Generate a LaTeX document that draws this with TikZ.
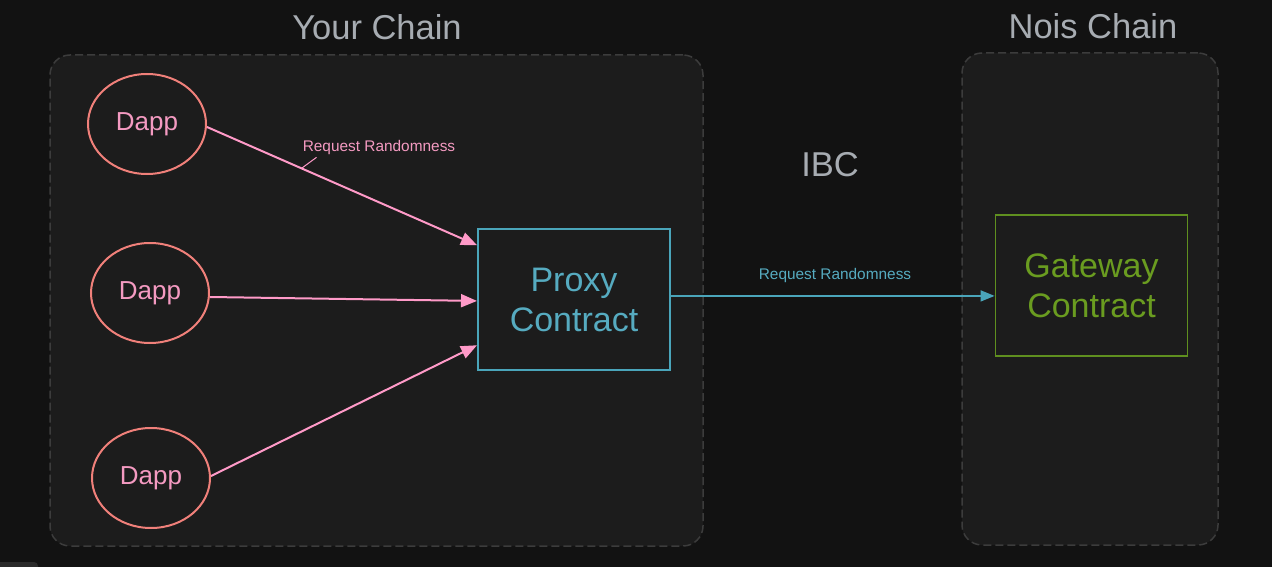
\documentclass[tikz,border=0pt]{standalone}
\usepackage{fontspec}
\setmainfont{Liberation Sans}
\usetikzlibrary{shapes.geometric,arrows.meta,calc}
\definecolor{bgc}{HTML}{121212}
\definecolor{panelc}{HTML}{1C1C1C}
\definecolor{dashc}{HTML}{3C3C3C}
\definecolor{titlec}{HTML}{A7ACB2}
\definecolor{pinkc}{HTML}{FF9AC8}
\definecolor{pinktxt}{HTML}{F49AC1}
\definecolor{salmonc}{HTML}{F0807A}
\definecolor{tealc}{HTML}{4AA5BA}
\definecolor{tealtxt}{HTML}{56ABC0}
\definecolor{greenc}{HTML}{5F8F1F}
\definecolor{greentxt}{HTML}{6A9C20}
\definecolor{uic}{HTML}{2A2A2A}
\tikzset{
  panel/.style={draw=dashc, fill=panelc, line width=1.5pt, dash pattern=on 8pt off 4pt, rounded corners=20pt, inner sep=0pt},
  title/.style={text=titlec, font=\fontsize{34.5}{40}\selectfont, inner sep=0pt},
  dapp/.style={ellipse, draw=salmonc, line width=2pt, text=pinktxt, font=\fontsize{26}{30}\selectfont, minimum width=118pt, minimum height=100pt, inner sep=0pt},
  contract/.style={rectangle, line width=2pt, font=\fontsize{34}{40}\selectfont, align=center, minimum width=192pt, minimum height=141pt, inner sep=0pt},
  pinkarrow/.style={draw=pinkc, line width=2pt, -{Triangle[length=16pt,width=13pt]}},
  tealarrow/.style={draw=tealc, line width=1.5pt, -{Triangle[length=14pt,width=11pt]}},
  elabel/.style={font=\fontsize{15.4}{18}\selectfont, inner sep=0pt}
}
\begin{document}
\begin{tikzpicture}[x=1pt,y=-1pt]
\useasboundingbox[fill=bgc] (0,0) rectangle (1272,567);
\fill[uic, rounded corners=4pt] (-5,562) rectangle (38,575);
% panels
\node[panel, minimum width=653pt, minimum height=491pt] (yourchain) at (376.5,300.5) {};
\node[panel, minimum width=256pt, minimum height=492pt] (noischain) at (1090,299) {};
% titles
\node[title] (yourtitle) at (377,27) {Your Chain};
\node[title] (noistitle) at (1093,26) {Nois Chain};
\node[title] (ibc) at (830,165) {IBC};
% dapps
\node[dapp] (d1) at (147,124) {Dapp};
\node[dapp] (d2) at (150,293) {Dapp};
\node[dapp] (d3) at (151,478) {Dapp};
% contracts
\node[contract, draw=tealc, text=tealtxt] (proxy) at (574,299.5) {Proxy\\Contract};
\node[contract, draw=greenc, text=greentxt, line width=1.8pt] (gw) at (1091.5,285.5) {Gateway\\Contract};
% pink arrows
\coordinate (p1) at ($(proxy.north west)!0.12!(proxy.south west)$);
\coordinate (p2) at ($(proxy.north west)!0.51!(proxy.south west)$);
\coordinate (p3) at ($(proxy.north west)!0.82!(proxy.south west)$);
\draw[pinkarrow] (d1.east) ++(0,3) coordinate (s1) -- (p1);
\draw[pinkarrow] (d2.east) ++(0,4) coordinate (s2) -- (p2);
\draw[pinkarrow] (d3.east) ++(0,-2) coordinate (s3) -- (p3);
% pink label with leader
\node[elabel, text=pinktxt] (lab1) at (379,148) {Request Randomness};
\coordinate (lead1) at ($(s1)!0.35!(p1)$);
\draw[pinkc, line width=1pt] (lead1) -- ++(15,-11);
% teal arrow
\coordinate (q1) at ($(proxy.north east)!0.475!(proxy.south east)$);
\draw[tealarrow] (q1) -- (q1 -| gw.west);
\node[elabel, text=tealtxt] (lab2) at (835,276) {Request Randomness};
\end{tikzpicture}
\end{document}
